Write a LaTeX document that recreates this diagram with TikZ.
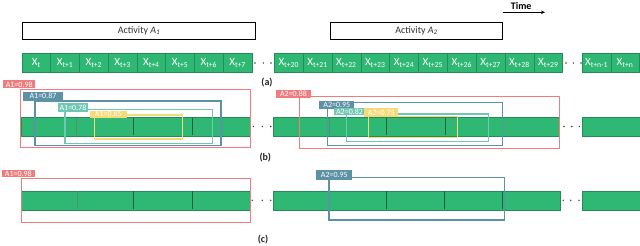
\documentclass[tikz,border=0pt]{standalone}
\usepackage{fontspec}
\setmainfont{Carlito}
\usetikzlibrary{arrows.meta}
\definecolor{cellgreen}{RGB}{47,184,115}
\definecolor{edgegreen}{RGB}{36,140,88}
\definecolor{divdark}{RGB}{28,95,62}
\definecolor{divfaint}{RGB}{70,150,110}
\definecolor{boxred}{RGB}{240,125,125}
\definecolor{boxblue}{RGB}{93,145,165}
\definecolor{boxteal}{RGB}{112,200,180}
\definecolor{boxyellow}{RGB}{247,218,120}
\begin{document}
\begin{tikzpicture}[x=1pt,y=-1pt,
  cell/.style={draw=edgegreen,line width=0.6pt,fill=cellgreen,text=white,
    minimum height=19.5pt,inner sep=0pt,font=\fontsize{11}{12}\selectfont},
  actbox/.style={draw=black,line width=0.8pt,fill=white,anchor=north west,
    minimum height=17.3pt,inner sep=0pt,text=black!80,font=\fontsize{10}{12}\selectfont},
  bar/.style={draw=edgegreen,line width=0.6pt,fill=cellgreen,anchor=north west,inner sep=0pt},
  divd/.style={draw=divdark,line width=0.7pt},
  divf/.style={draw=divfaint,line width=0.5pt},
  abox/.style={line width=1.2pt},
  lab/.style={text=white,inner sep=0pt,font=\fontsize{8}{8}\selectfont},
  tag/.style={font=\bfseries\fontsize{10}{12}\selectfont,text=black!85},
  dot/.style={fill=black!75,circle,inner sep=0pt,minimum size=1.6pt}
]
\useasboundingbox (0,0) rectangle (640,246);

% Time arrow
\node[font=\bfseries\fontsize{10}{12}\selectfont] (time) at (521.2,6) {Time};
\coordinate (tA) at (502.7,12.3);
\coordinate (tB) at (545,12.3);
\draw[-{Stealth[length=4pt,width=3.5pt]},line width=0.6pt] (tA) -- (tB);

% Activity boxes
\node[actbox,minimum width=232.7pt] (act1) at (22.3,21.7) {Activity \textit{A\textsubscript{1}}};
\node[actbox,minimum width=172.3pt] (act2) at (330,21.7) {Activity \textit{A\textsubscript{2}}};

% Row (a) cells
\foreach \lab [count=\i from 0] in {t,t+1,t+2,t+3,t+4,t+5,t+6,t+7}
  \node[cell,minimum width=28.75pt] (a\i) at ({22+28.75*(\i+0.5)},62.8) {X\textsubscript{\lab}};
\foreach \lab [count=\i from 0] in {t+20,t+21,t+22,t+23,t+24,t+25,t+26,t+27,t+28,t+29}
  \node[cell,minimum width=28.84pt] (b\i) at ({274.3+28.84*(\i+0.5)},62.8) {X\textsubscript{\lab}};
\foreach \lab [count=\i from 0] in {t+n-1,t+n}
  \node[cell,minimum width=28.5pt] (c\i) at ({582.3+28.5*(\i+0.5)},62.8) {X\textsubscript{\lab}};
\foreach \x [count=\i] in {255,263.3,271}
  \node[dot] (da\i) at (\x,63) {};
\foreach \x [count=\i] in {566,573.3,581}
  \node[dot] (db\i) at (\x,63) {};
\node[tag] (taga) at (267,83) {(a)};

% Row (b)
\node[bar,minimum width=229.3pt,minimum height=18.4pt] (bar1) at (20.7,117.3) {};
\node[bar,minimum width=285.7pt,minimum height=18.4pt] (bar2) at (273.3,117.3) {};
\node[bar,minimum width=57.7pt,minimum height=18.4pt] (bar3) at (582.3,117.3) {};
\draw[divf] (76.7,117.6) -- (76.7,135.4);
\draw[divd] (133.3,117.6) -- (133.3,135.4);
\draw[divd] (192.3,117.6) -- (192.3,135.4);
\draw[divf] (329.3,117.6) -- (329.3,135.4);
\draw[divd] (386.7,117.6) -- (386.7,135.4);
\draw[divd] (445,117.6) -- (445,135.4);
\draw[divd] (502.3,117.6) -- (502.3,135.4);
\foreach \x [count=\i] in {253.3,262.3,270.7}
  \node[dot] (dc\i) at (\x,126.5) {};
\foreach \x [count=\i] in {564,571.7,579.3}
  \node[dot] (dd\i) at (\x,126.5) {};

% boxes group 1
\draw[abox,boxred] (20.7,89.7) rectangle (250.7,147.7);
\node[lab,fill=boxred,minimum width=31.7pt,minimum height=8pt] (l1) at (19.2,84.3) {A1=0.98};
\draw[abox,boxblue] (35,101) rectangle (221,145.7);
\node[lab,fill=boxblue,minimum width=39.4pt,minimum height=9pt] (l2) at (43,96.2) {A1=0.87};
\draw[abox,boxteal] (65,109.3) rectangle (212.3,143.3);
\node[lab,fill=boxteal,minimum width=30.6pt,minimum height=8.4pt] (l3) at (73,107.5) {A1=0.78};
\draw[abox,boxyellow] (94.3,115) rectangle (182.7,139);
\node[lab,fill=boxyellow,minimum width=36.7pt,minimum height=7pt] (l4) at (108.3,114.2) {A1=0.65};

% boxes group 2
\draw[abox,boxred] (299.3,96.7) rectangle (559.3,148.3);
\node[lab,fill=boxred,minimum width=35pt,minimum height=8pt] (l5) at (293.5,93.7) {A2=0.88};
\draw[abox,boxblue] (327.7,102.3) rectangle (502.3,145.7);
\node[lab,fill=boxblue,minimum width=35pt,minimum height=8pt] (l6) at (336.8,104.7) {A2=0.95};
\draw[abox,boxteal] (346.7,114) rectangle (488.3,141.7);
\node[lab,fill=boxteal,minimum width=31pt,minimum height=7.3pt] (l7) at (349.5,111.3) {A2=0.82};
\draw[abox,boxyellow] (368.3,116.7) rectangle (457.3,137.7);
\node[lab,fill=boxyellow,minimum width=34pt,minimum height=9.6pt] (l8) at (381.3,112.5) {A2=0.75};

\node[tag] (tagb) at (265.3,157.8) {(b)};

% Row (c)
\node[bar,minimum width=229.3pt,minimum height=18.7pt] (cbar1) at (20.7,191) {};
\node[bar,minimum width=286.7pt,minimum height=18.7pt] (cbar2) at (273.3,191) {};
\node[bar,minimum width=57.7pt,minimum height=18.7pt] (cbar3) at (582.3,191) {};
\draw[divf] (77.3,191.3) -- (77.3,209.4);
\draw[divd] (133.7,191.3) -- (133.7,209.4);
\draw[divd] (192.3,191.3) -- (192.3,209.4);
\draw[divf] (329.3,191.3) -- (329.3,209.4);
\draw[divd] (386.7,191.3) -- (386.7,209.4);
\draw[divd] (444.3,191.3) -- (444.3,209.4);
\draw[divd] (502.7,191.3) -- (502.7,209.4);
\foreach \x [count=\i] in {252.3,262.3,270.7}
  \node[dot] (de\i) at (\x,200.3) {};
\foreach \x [count=\i] in {563.3,570.7,579}
  \node[dot] (df\i) at (\x,200.3) {};

\draw[abox,boxred] (21.7,178.3) rectangle (250.7,222.7);
\node[lab,fill=boxred,minimum width=33pt,minimum height=7.5pt] (l9) at (18.3,173.7) {A1=0.98};
\draw[abox,boxblue] (329,177.7) rectangle (504.3,220);
\node[lab,fill=boxblue,minimum width=36pt,minimum height=10pt] (l10) at (334.3,175) {A2=0.95};

\node[tag] (tagc) at (263,240) {(c)};
\end{tikzpicture}
\end{document}
